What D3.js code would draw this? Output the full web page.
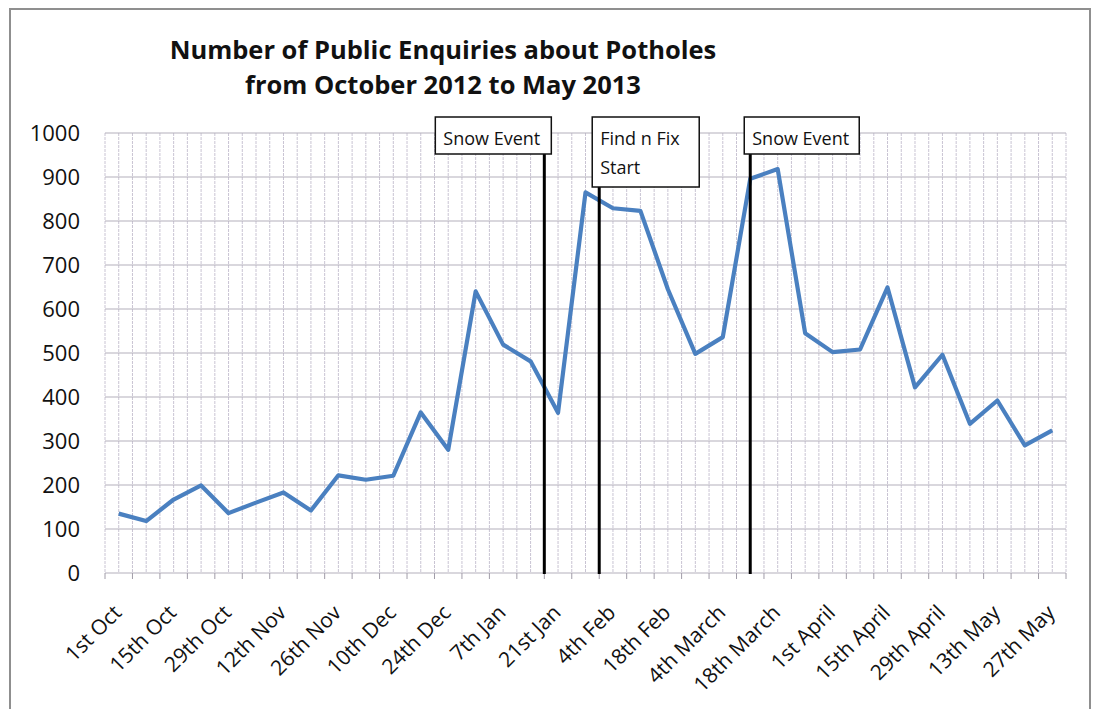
<!DOCTYPE html>
<html>
<head>
<meta charset="utf-8">
<script src="https://cdn.jsdelivr.net/npm/d3@7/dist/d3.min.js"></script>
<style>
  html, body { margin: 0; padding: 0; background: #fff; }
  svg { display: block; }
  text { font-family: "Open Sans", "Noto Sans", sans-serif; fill: #111; }
</style>
</head>
<body>
<svg id="chart" width="1098" height="709"></svg>
<script>
// ---- data ----
const weeks = ["1st Oct","8th Oct","15th Oct","22nd Oct","29th Oct","5th Nov","12th Nov","19th Nov","26th Nov",
  "3rd Dec","10th Dec","17th Dec","24th Dec","31st Dec","7th Jan","14th Jan","21st Jan","28th Jan",
  "4th Feb","11th Feb","18th Feb","25th Feb","4th March","11th March","18th March","25th March",
  "1st April","8th April","15th April","22nd April","29th April","6th May","13th May","20th May","27th May"];
const enquiries = [135,118,167,199,136,160,183,142,222,212,221,365,280,640,519,481,364,865,
  829,823,645,498,536,896,918,545,502,508,649,422,496,339,392,290,324];
const labelledWeeks = ["1st Oct","15th Oct","29th Oct","12th Nov","26th Nov","10th Dec","24th Dec","7th Jan",
  "21st Jan","4th Feb","18th Feb","4th March","18th March","1st April","15th April","29th April","13th May","27th May"];
const yTicks = [0,100,200,300,400,500,600,700,800,900,1000];
// event markers: position in week index (fractional = between weeks)
const eventPos = [15.5, 17.5, 23];
const eventText = [["Snow Event"], ["Find n Fix", "Start"], ["Snow Event"]];
const titleLines = ["Number of Public Enquiries about Potholes", "from October 2012 to May 2013"];

// ---- layout ----
const svg = d3.select("#chart");
const plot = {left: 105, right: 1066, top: 133, bottom: 573};

svg.append("rect").attr("x", 10).attr("y", 9).attr("width", 1080).attr("height", 720)
  .attr("fill", "#fff").attr("stroke", "#8f8f8f").attr("stroke-width", 2);

const x = d3.scaleBand().domain(weeks).range([plot.left, plot.right]).paddingInner(0).paddingOuter(0);
const xc = d => x(d) + x.bandwidth() / 2;
const xIdx = d3.scaleLinear().domain([0, weeks.length]).range([plot.left, plot.right]); // boundaries
const y = d3.scaleLinear().domain([0, 1000]).range([plot.bottom, plot.top]);

// vertical gridlines: every half week
const halfSteps = d3.range(0, weeks.length * 2 + 1).map(k => k / 2);
svg.append("g").selectAll("line").data(halfSteps).join("line")
  .attr("x1", d => xIdx(d)).attr("x2", d => xIdx(d))
  .attr("y1", plot.top).attr("y2", plot.bottom)
  .attr("stroke", "#c9c4d3").attr("stroke-width", 1)
  .attr("stroke-dasharray", "3,1");

// horizontal gridlines
svg.append("g").selectAll("line").data(yTicks).join("line")
  .attr("x1", plot.left).attr("x2", plot.right)
  .attr("y1", d => y(d)).attr("y2", d => y(d))
  .attr("stroke", "#b3afbb").attr("stroke-width", 1.2);

// y axis labels
const yAxis = d3.axisLeft(y).tickValues(yTicks).tickFormat(d3.format("d")).tickSize(0).tickPadding(0);
const gy = svg.append("g").attr("transform", `translate(80,0)`).call(yAxis);
gy.select(".domain").remove();
gy.selectAll("text").attr("font-size", 22).attr("font-family", "'Open Sans', sans-serif").attr("fill", "#111");

// x axis ticks at week boundaries
const boundaries = d3.range(0, weeks.length + 1);
svg.append("g").selectAll("line").data(boundaries).join("line")
  .attr("x1", d => xIdx(d)).attr("x2", d => xIdx(d))
  .attr("y1", plot.bottom).attr("y2", plot.bottom + 6)
  .attr("stroke", "#a09ca8").attr("stroke-width", 1);

// x labels
svg.append("g").selectAll("text").data(labelledWeeks).join("text")
  .attr("transform", d => `translate(${xc(d) + 4},${plot.bottom + 41}) rotate(-45)`)
  .attr("text-anchor", "end")
  .attr("font-size", 21)
  .text(d => d);

// line
const line = d3.line().x((d, i) => xc(weeks[i])).y(d => y(d));
svg.append("path").datum(enquiries)
  .attr("d", line).attr("fill", "none")
  .attr("stroke", "#4a80c0").attr("stroke-width", 4.2).attr("stroke-linejoin", "round");

// event lines and boxes
const boxes = [
  {w: 116, h: 37},
  {w: 107, h: 70},
  {w: 115, h: 37}
];
const boxLeftOffset = [-109, -7, -6];
eventPos.forEach((p, i) => {
  const lx = xIdx(p + 0.5);
  svg.append("line").attr("x1", lx).attr("x2", lx)
    .attr("y1", 150).attr("y2", plot.bottom + 1)
    .attr("stroke", "#000").attr("stroke-width", 3);
  const bx = lx + boxLeftOffset[i];
  svg.append("rect").attr("x", bx).attr("y", 117).attr("width", boxes[i].w).attr("height", boxes[i].h)
    .attr("fill", "#fff").attr("stroke", "#111").attr("stroke-width", 1.5);
  eventText[i].forEach((t, j) => {
    svg.append("text").attr("x", bx + 8).attr("y", 145 + j * 29)
      .attr("font-size", 18).text(t);
  });
});

// title
titleLines.forEach((t, i) => {
  svg.append("text").attr("x", 443).attr("y", 59 + i * 35)
    .attr("text-anchor", "middle").attr("font-weight", "bold").attr("font-size", 25.5)
    .text(t);
});
</script>
</body>
</html>
